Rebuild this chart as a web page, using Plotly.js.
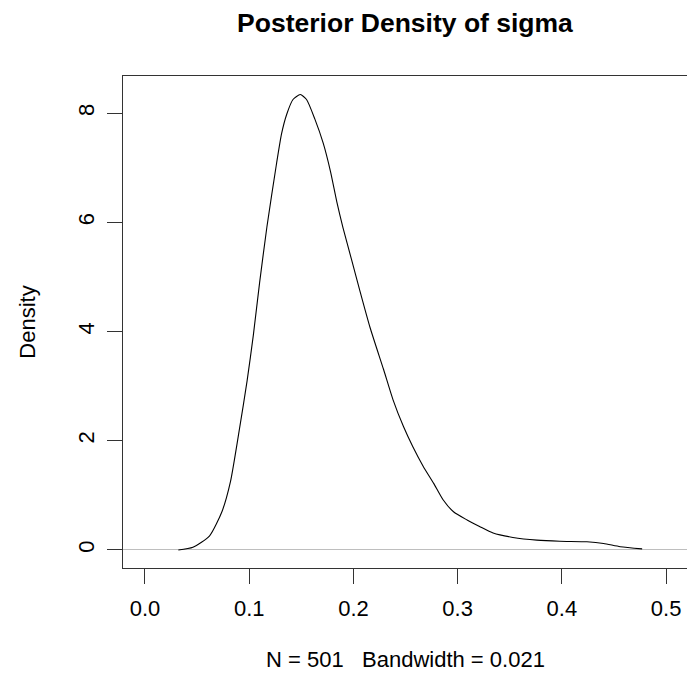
<!DOCTYPE html>
<html>
<head>
<meta charset="utf-8">
<script src="https://cdn.plot.ly/plotly-3.0.1.min.js"></script>
<style>
html,body{margin:0;padding:0;overflow:hidden;background:#fff;}
#wrap{width:687px;height:677px;overflow:hidden;}
#chart{width:688px;height:677px;}
</style>
</head>
<body>
<div id="wrap"><div id="chart"></div></div>
<script>
// Density estimate of sigma
const sigmaValues = [0.032,0.046,0.062,0.074,0.082,0.091,0.098,0.104,0.110,0.117,0.126,0.131,0.136,0.142,0.149,0.155,0.163,0.171,0.178,0.184,0.190,0.198,0.206,0.216,0.229,0.238,0.248,0.257,0.267,0.277,0.286,0.296,0.309,0.321,0.334,0.353,0.376,0.398,0.424,0.440,0.456,0.477];
const densityValues = [0.00,0.05,0.26,0.71,1.25,2.26,3.10,3.94,4.90,5.92,7.05,7.62,7.98,8.25,8.34,8.25,7.89,7.45,6.93,6.38,5.90,5.33,4.76,4.07,3.30,2.75,2.26,1.89,1.53,1.22,0.92,0.70,0.55,0.43,0.31,0.23,0.18,0.16,0.15,0.12,0.06,0.02];
const xTickValues = [0, 0.1, 0.2, 0.3, 0.4, 0.5];
const xTickLabels = ["0.0", "0.1", "0.2", "0.3", "0.4", "0.5"];
const yTickValues = [0, 2, 4, 6, 8];
const yTickLabels = ["0", "2", "4", "6", "8"];
const chartTitle = "Posterior Density of sigma";
const yTitle = "Density";
const subTitle = "N = 501\u00a0\u00a0\u00a0Bandwidth = 0.021";

const FONT = "Liberation Sans, Arial, sans-serif";

const trace = {
  x: sigmaValues,
  y: densityValues,
  type: "scatter",
  mode: "lines",
  line: {color: "#000", width: 1.1, shape: "spline", smoothing: 0.6},
  hoverinfo: "skip",
  showlegend: false
};

const layout = {
  width: 688,
  height: 677,
  margin: {l: 123, r: 0, t: 76, b: 109, pad: 0},
  paper_bgcolor: "#fff",
  plot_bgcolor: "#fff",
  font: {family: FONT, size: 22, color: "#000"},
  title: {
    text: "<b>" + chartTitle + "</b>",
    font: {family: FONT, size: 26.5, color: "#000"},
    x: 405 / 688, xref: "container", xanchor: "center",
    y: 1 - 23 / 677, yref: "container", yanchor: "middle"
  },
  xaxis: {
    range: [-0.0211, 0.521],
    tickvals: xTickValues,
    ticktext: xTickLabels,
    ticks: "outside",
    ticklen: 15,
    tickwidth: 1,
    tickcolor: "#333",
    showline: true,
    linecolor: "#333",
    linewidth: 1,
    mirror: true,
    showgrid: false,
    zeroline: false,
    ticklabelstandoff: 6,
    tickfont: {family: FONT, size: 22, color: "#000"}
  },
  yaxis: {
    range: [-0.33, 8.68],
    tickvals: yTickValues,
    ticktext: yTickLabels,
    tickangle: -90,
    ticks: "outside",
    ticklen: 15,
    tickwidth: 1,
    tickcolor: "#333",
    showline: true,
    linecolor: "#333",
    linewidth: 1,
    mirror: true,
    showgrid: false,
    zeroline: true,
    zerolinecolor: "#bebebe",
    zerolinewidth: 1,
    ticklabelstandoff: 4,
    tickfont: {family: FONT, size: 22, color: "#000"},
    title: {text: yTitle, font: {family: FONT, size: 22, color: "#000"}, standoff: 32}
  },
  annotations: [{
    text: subTitle,
    xref: "paper", yref: "paper",
    x: 0.5, y: (568 - 659) / 492,
    xanchor: "center", yanchor: "middle",
    showarrow: false,
    font: {family: FONT, size: 22, color: "#000"}
  }]
};

Plotly.newPlot("chart", [trace], layout, {staticPlot: true, displayModeBar: false});
</script>
</body>
</html>
